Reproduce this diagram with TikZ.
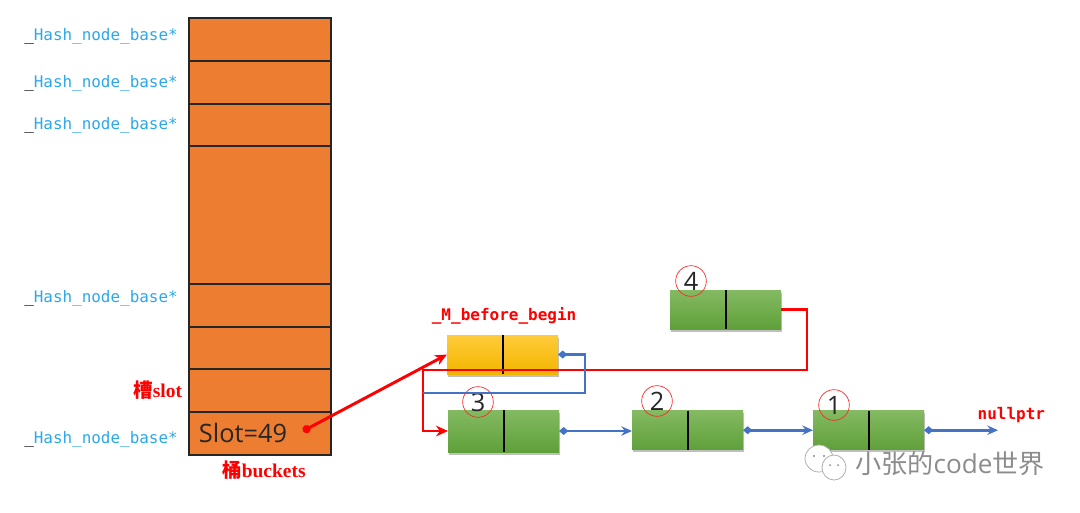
\documentclass[tikz,border=0pt]{standalone}
\usepackage{fontspec}
\setmainfont{Liberation Serif}
\setsansfont{Open Sans}
\setmonofont{DejaVu Sans Mono}
\newfontfamily\cjk{Noto Sans CJK SC}
\usetikzlibrary{positioning,shadows,arrows.meta}

\definecolor{bucketorange}{HTML}{ED7D31}
\definecolor{linkblue}{HTML}{4472C4}
\definecolor{labelblue}{HTML}{2BA8EA}
\definecolor{marksgray}{HTML}{8C8C8C}
\definecolor{greentop}{HTML}{84BA62}
\definecolor{greenbot}{HTML}{5FA03A}
\definecolor{yellowtop}{HTML}{FFCB3A}
\definecolor{yellowbot}{HTML}{F2B500}

\tikzset{
  cell/.style={draw=black!85, line width=0.8pt, fill=bucketorange, minimum width=106.5pt, inner sep=0pt, outer sep=0pt},
  listnode/.style={minimum width=83.25pt, minimum height=#1, inner sep=0pt, outer sep=0pt, drop shadow={shadow xshift=0.8pt, shadow yshift=-2pt, opacity=0.5},
    path picture={\draw[line width=1.5pt] (path picture bounding box.north) -- (path picture bounding box.south);}},
  greenbox/.style={listnode=#1, top color=greentop, bottom color=greenbot},
  yellowbox/.style={listnode=#1, top color=yellowtop, bottom color=yellowbot},
  hashlabel/.style={anchor=base east, inner sep=0pt, font=\ttfamily\fontsize{11.95}{13}\selectfont, text=labelblue},
  redcode/.style={inner sep=0pt, font=\ttfamily\bfseries\fontsize{12}{13}\selectfont, text=red},
  redname/.style={inner sep=0pt, font=\bfseries\fontsize{14.6}{16}\selectfont, text=red},
  numcircle/.style={circle, draw=red!85, line width=0.5pt, minimum size=23pt, inner sep=0pt, font=\sffamily\fontsize{19}{20}\selectfont, text=black!85},
  redlink/.style={draw=red, line width=2.2pt},
  bluelink/.style={draw=linkblue, line width=2.1pt, {Diamond[length=7pt,width=6pt]}-{Stealth[length=8pt,width=7pt]}},
  bubble/.style={draw=marksgray!70, line width=0.6pt, fill=white}
}

\begin{document}
\begin{tikzpicture}[x=0.75pt, y=-0.75pt, node distance=0pt]
  \useasboundingbox (0,0) rectangle (1080,512);

  \node[cell, minimum height=32.25pt, anchor=north west] (c1) at (189,18) {};
  \node[cell, minimum height=32.25pt, below=of c1] (c2) {};
  \node[cell, minimum height=31.5pt, below=of c2] (c3) {};
  \node[cell, minimum height=103.5pt, below=of c3] (c4) {};
  \node[cell, minimum height=32.25pt, below=of c4] (c5) {};
  \node[cell, minimum height=31.5pt, below=of c5] (c6) {};
  \node[cell, minimum height=32.25pt, below=of c6] (c7) {};
  \node[cell, minimum height=32.25pt, below=of c7] (c8) {};

  \foreach \y [count=\i] in {40,87,129,302,443}
    \node[hashlabel] (hash\i) at (178,\y) {{\color{black}\_}Hash\_node\_base*};

  \node[font=\sffamily\fontsize{19}{20}\selectfont, text=black!85, inner sep=0pt] (slotval) at (243,433) {Slot=49};
  \node[redname, left=5pt of c7] (slotname) {{\cjk 槽}slot};
  \node[redname, below=4.5pt of c8, xshift=3pt] (bucketname) {{\cjk 桶}buckets};

  \node[yellowbox=29.25pt] (head) at (502.5,354.5) {};
  \node[redcode, above=7.5pt of head, xshift=1.2pt] (headname) {\_M\_before\_begin};
  \node[greenbox=31.5pt] (n3) at (503.5,431) {};
  \node[greenbox=29.25pt, right=54.75pt of n3, yshift=0.6pt] (n2) {};
  \node[greenbox=29.25pt, right=52.5pt of n2] (n1) {};
  \node[greenbox=29.25pt] (n4) at (725.5,309.5) {};

  \node[numcircle] (m3) at (478,402) {3};
  \node[numcircle] (m2) at (657,401) {2};
  \node[numcircle] (m1) at (834,405) {1};
  \node[numcircle] (m4) at (691,281) {4};

  \coordinate (slotdot) at (303,431);
  \coordinate (redcorner) at (807,370);
  \coordinate (redleft) at (423,370);
  \coordinate (bluecorner) at (585,393);
  \coordinate (blueleft) at (423,393);
  \coordinate[right=55.5pt of n1] (nullend);

  \draw[redlink, {Circle[length=6pt]}-{Stealth[length=9pt,width=8pt]}] (slotdot) -- (head.west);
  \draw[redlink, -{Stealth[length=9pt,width=8pt]}] (n4.east) -| (redcorner) -- (redleft) |- (n3.west);
  \draw[draw=linkblue, line width=2.1pt, {Diamond[length=7pt,width=6pt]}-] (head.east) -| (bluecorner) -- (blueleft);
  \draw[bluelink] (n3.east) -- (n3.east -| n2.west);
  \draw[bluelink] (n2.east) -- (n1.west);
  \draw[bluelink] (n1.east) -- (nullend);

  \node[redcode, above=5pt of nullend, xshift=10pt] (nullname) {nullptr};

  \draw[bubble] (819,458.5) ellipse (14 and 13.5);
  \draw[bubble] (834,467.5) ellipse (12 and 12.5);
  \fill[marksgray] (814,456) circle (1.1) (824,456) circle (1.1) (830,465) circle (1) (838,465) circle (1);
  \node[anchor=west, inner sep=0pt, text=marksgray, font=\sffamily\fontsize{19.6}{21}\selectfont] (mark) at (855,464) {{\cjk 小张的}code{\cjk 世界}};
\end{tikzpicture}
\end{document}
